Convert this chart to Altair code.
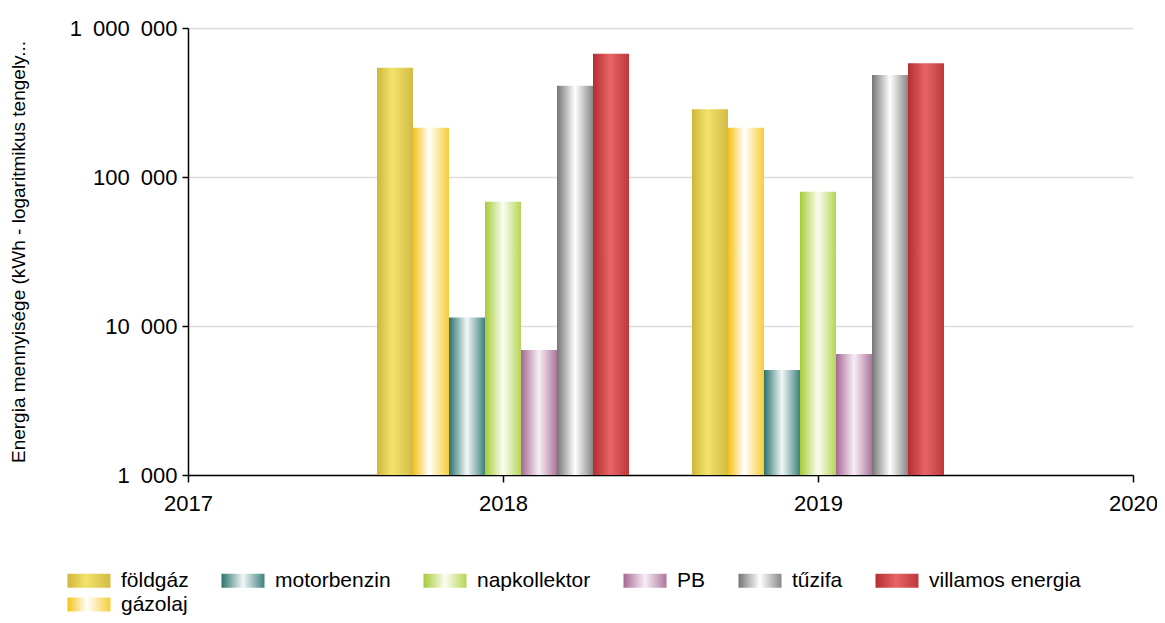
import altair as alt
import pandas as pd

# ---- data ----
axis_years = [2017, 2018, 2019, 2020]
years = [2018, 2019]
series = ["földgáz", "gázolaj", "motorbenzin", "napkollektor", "PB", "tűzifa", "villamos energia"]
legend_order = ["földgáz", "motorbenzin", "napkollektor", "PB", "tűzifa", "villamos energia", "gázolaj"]
values_2018 = [542000, 214000, 11400, 68300, 6900, 410000, 672000]
values_2019 = [285000, 214000, 5070, 79700, 6490, 484000, 580000]
y_ticks = [1000, 10000, 100000, 1000000]

# horizontal "cylinder" gradients per series
stops = {
    "földgáz": [(0, "#d0b539"), (0.42, "#f2e36c"), (1, "#d3bb45")],
    "gázolaj": [(0, "#f4c214"), (0.45, "#ffffff"), (1, "#f7cd38")],
    "motorbenzin": [(0, "#2a736d"), (0.5, "#f2f7f7"), (1, "#3d827d")],
    "napkollektor": [(0, "#a6cb36"), (0.5, "#fbfdf2"), (1, "#b6d456")],
    "PB": [(0, "#a56893"), (0.5, "#f8eff5"), (1, "#ad769e")],
    "tűzifa": [(0, "#757575"), (0.5, "#ffffff"), (1, "#888888")],
    "villamos energia": [(0, "#b42e30"), (0.48, "#e66566"), (1, "#bd383a")],
}

rows = []
for yr, vals in zip(years, [values_2018, values_2019]):
    for i, (s, v) in enumerate(zip(series, vals)):
        rows.append({"year": yr, "series": s, "idx": i, "kwh": v})
df = pd.DataFrame(rows)

FONT = "Liberation Sans"

x_scale = alt.Scale(domain=[2017, 2020], nice=False, zero=False)
y_scale = alt.Scale(type="log", domain=[1000, 1000000], nice=False)

x_axis = alt.Axis(
    values=axis_years, format="d", title=None, grid=False,
    labelFont=FONT, labelFontSize=22, labelColor="black",
    labelFlush=False, labelOverlap=False, labelPadding=11,
    domainColor="black", domainWidth=1.5, tickColor="black", tickWidth=1.5, tickSize=7,
)
y_axis = alt.Axis(
    values=y_ticks,
    labelExpr="replace(format(datum.value, ','), regexp(',', 'g'), '\u2002')",
    labelFont=FONT, labelFontSize=22, labelColor="black", labelOverlap=False, labelPadding=5,
    title="Energia mennyisége  (kWh  - logaritmikus tengely...",
    titleFont=FONT, titleFontSize=19, titleFontWeight="normal", titleColor="black",
    titleAngle=270, titleX=-170, titleY=223.5, titleAlign="center", titleBaseline="middle",
    domainColor="black", domainWidth=1.5, tickColor="black", tickWidth=1.5, tickSize=6,
    gridColor="#dcdcdc", gridWidth=1.5,
)

base = alt.Chart(df).transform_calculate(
    x0="datum.year - 0.4 + datum.idx * 0.8 / 7",
    x1="datum.year - 0.4 + (datum.idx + 1) * 0.8 / 7",
)

layers = []
for s in series:
    grad = alt.Gradient(
        gradient="linear", x1=0, y1=0, x2=1, y2=0,
        stops=[alt.GradientStop(offset=o, color=c) for o, c in stops[s]],
    )
    layers.append(
        base.transform_filter(alt.datum.series == s)
        .mark_bar(color=grad)
        .encode(
            x=alt.X("x0:Q", scale=x_scale, axis=x_axis),
            x2="x1:Q",
            y=alt.Y("kwh:Q", scale=y_scale, axis=y_axis),
            y2=alt.datum(1000),
        )
    )

# expression giving the same gradients to the legend symbols
def grad_js(s):
    st = ",".join("{offset:%s,color:'%s'}" % (o, c) for o, c in stops[s])
    return "{gradient:'linear',x1:0,y1:0,x2:1,y2:0,stops:[%s]}" % st

expr = ""
for s in legend_order:
    expr += "datum.value === '%s' ? %s : " % (s, grad_js(s))
expr += "null"

rect_path = "M-1,-0.7H3.3V0.7H-1Z"

legend_layer = base.mark_point(filled=True, opacity=0, fill=alt.ExprRef(expr)).encode(
    x=alt.X("year:Q", scale=x_scale, axis=x_axis),
    y=alt.Y("kwh:Q", scale=y_scale, axis=y_axis),
    shape=alt.Shape(
        "series:N",
        scale=alt.Scale(domain=legend_order, range=[rect_path] * len(legend_order)),
        legend=alt.Legend(
            title=None, orient="none", legendX=-121, legendY=542,
            direction="horizontal", columns=6, columnPadding=32, rowPadding=2,
            symbolSize=400, symbolOpacity=1, symbolStrokeWidth=0,
            labelFont=FONT, labelFontSize=21, labelColor="black",
            labelOffset=33, labelLimit=400,
        ),
    ),
)

chart = alt.layer(*layers, legend_layer).properties(
    width=945, height=447,
    padding={"left": 180, "top": 20, "right": 24, "bottom": 140},
    autosize="none",
).configure_view(strokeWidth=0)

chart.save("out.html", embed_options={"renderer": "svg", "actions": False})
